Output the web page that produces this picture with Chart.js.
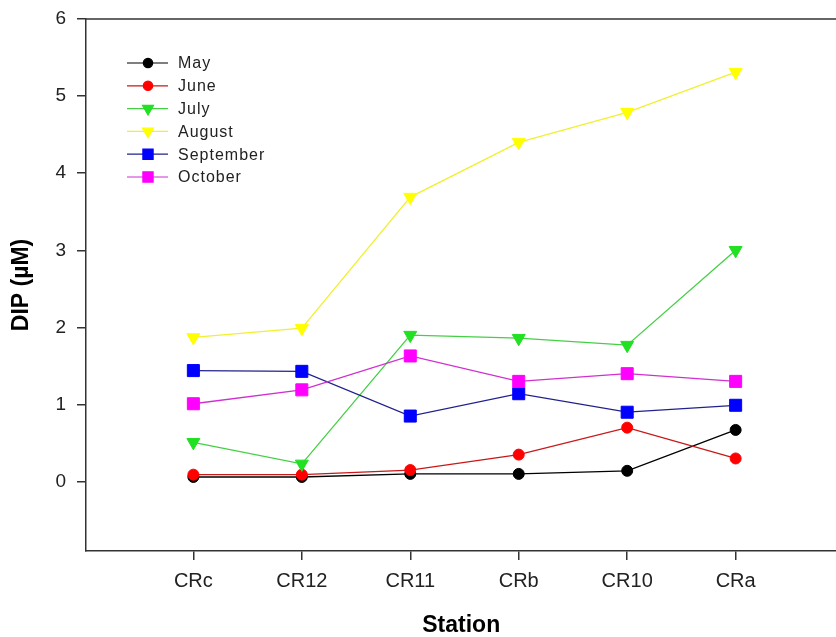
<!DOCTYPE html>
<html>
<head>
<meta charset="utf-8">
<script src="https://cdn.jsdelivr.net/npm/chart.js@4/dist/chart.umd.min.js"></script>
<style>
  html, body { margin: 0; padding: 0; background: #fff; overflow: hidden; }
  #wrap { width: 846px; height: 637px; }
</style>
</head>
<body>
<div id="wrap"><canvas id="dip-chart"></canvas></div>
<script>
const stations = ['CRc', 'CR12', 'CR11', 'CRb', 'CR10', 'CRa'];
const yTicks = [0, 1, 2, 3, 4, 5, 6];

const may = [0.06, 0.06, 0.10, 0.10, 0.14, 0.67];
const june = [0.09, 0.09, 0.15, 0.35, 0.70, 0.30];
const july = [0.51, 0.23, 1.90, 1.86, 1.77, 3.00];
const august = [1.87, 1.99, 3.69, 4.40, 4.79, 5.31];
const september = [1.44, 1.43, 0.85, 1.14, 0.90, 0.99];
const october = [1.01, 1.19, 1.63, 1.30, 1.40, 1.30];

const series = [
  { label: 'May', data: may, line: '#000000', fill: '#000000', style: 'circle', radius: 5.5, rotation: 0 },
  { label: 'June', data: june, line: '#c81818', fill: '#ff0000', style: 'circle', radius: 5.5, rotation: 0 },
  { label: 'July', data: july, line: '#44d044', fill: '#22e022', style: 'triangle', radius: 7.5, rotation: 180 },
  { label: 'August', data: august, line: '#f0f030', fill: '#ffff00', style: 'triangle', radius: 7.5, rotation: 180 },
  { label: 'September', data: september, line: '#22228c', fill: '#0000ff', style: 'rect', radius: 8.5, rotation: 0 },
  { label: 'October', data: october, line: '#d030d0', fill: '#ff00ff', style: 'rect', radius: 8.5, rotation: 0 },
];

const axisColor = '#333333';
const textColor = '#222222';

// legend drawn inside the plot area: line sample with marker, then name
const insideLegend = {
  id: 'insideLegend',
  afterDatasetsDraw(chart) {
    const ctx = chart.ctx;
    const left = chart.chartArea.left;
    ctx.save();
    series.forEach((s, i) => {
      const y = 63 + i * 22.8;
      ctx.strokeStyle = s.line;
      ctx.lineWidth = 1.2;
      ctx.beginPath();
      ctx.moveTo(left + 41, y);
      ctx.lineTo(left + 82, y);
      ctx.stroke();
      ctx.fillStyle = s.fill;
      ctx.strokeStyle = s.fill;
      Chart.helpers.drawPoint(ctx, {
        pointStyle: s.style,
        radius: s.radius * 0.85,
        rotation: s.rotation,
        borderWidth: 1,
      }, left + 62, y);
      ctx.fillStyle = textColor;
      ctx.font = '16px "Liberation Sans", Arial, sans-serif';
      ctx.letterSpacing = '1px';
      ctx.textAlign = 'left';
      ctx.textBaseline = 'middle';
      ctx.fillText(s.label, left + 92, y + 1);
    });
    ctx.restore();
  },
  afterDraw(chart) {
    // top frame line, and axis lines carried to the page edge
    const { ctx, chartArea } = chart;
    ctx.save();
    ctx.strokeStyle = axisColor;
    ctx.lineWidth = 1.5;
    ctx.beginPath();
    ctx.moveTo(chartArea.left, chartArea.top);
    ctx.lineTo(chart.width, chartArea.top);
    ctx.stroke();
    ctx.beginPath();
    ctx.moveTo(chartArea.right, chartArea.bottom);
    ctx.lineTo(chart.width, chartArea.bottom);
    ctx.stroke();
    ctx.restore();
  },
};

new Chart(document.getElementById('dip-chart'), {
  type: 'line',
  data: {
    datasets: series.map((s, i) => ({
      label: s.label,
      data: s.data.map((v, j) => ({ x: j, y: v })),
      borderColor: s.line,
      borderWidth: 1.3,
      backgroundColor: s.fill,
      pointBackgroundColor: s.fill,
      pointBorderColor: s.fill,
      pointBorderWidth: 1,
      pointStyle: s.style,
      pointRadius: s.radius,
      pointRotation: s.rotation,
      tension: 0,
      fill: false,
      order: series.length - i,
    })),
  },
  options: {
    responsive: true,
    maintainAspectRatio: false,
    animation: false,
    layout: { padding: { top: 0, left: 0, right: 0, bottom: 0 } },
    plugins: {
      legend: { display: false },
      tooltip: { enabled: false },
    },
    scales: {
      x: {
        type: 'linear',
        min: -0.99,
        max: 5.93,
        afterBuildTicks: (scale) => {
          scale.ticks = stations.map((_, i) => ({ value: i }));
        },
        afterFit: (scale) => { scale.height = 86; },
        ticks: {
          callback: (v) => stations[v],
          color: textColor,
          font: { family: '"Liberation Sans", Arial, sans-serif', size: 20 },
          padding: 9,
          autoSkip: false,
          maxRotation: 0,
        },
        grid: {
          drawOnChartArea: false,
          drawTicks: true,
          tickLength: 9,
          color: axisColor,
          lineWidth: 1.5,
        },
        border: { color: axisColor, width: 1.5 },
        title: {
          display: true,
          text: 'Station',
          color: '#000',
          font: { family: '"Liberation Sans", Arial, sans-serif', size: 23, weight: 'bold' },
          padding: { top: 0, bottom: -2 },
        },
      },
      y: {
        min: -0.9,
        max: 6,
        afterBuildTicks: (scale) => {
          scale.ticks = yTicks.map((v) => ({ value: v }));
        },
        afterFit: (scale) => {
          scale.width = 86;
          scale.paddingTop = 19;
        },
        ticks: {
          color: textColor,
          font: { family: '"Liberation Sans", Arial, sans-serif', size: 19, lineHeight: 1 },
          padding: 11,
        },
        grid: {
          drawOnChartArea: false,
          drawTicks: true,
          tickLength: 9,
          color: axisColor,
          lineWidth: 1.5,
        },
        border: { color: axisColor, width: 1.5 },
        title: {
          display: true,
          text: 'DIP (µM)',
          color: '#000',
          font: { family: '"Liberation Sans", Arial, sans-serif', size: 23, weight: 'bold' },
          padding: { top: 8, bottom: 0 },
        },
      },
    },
  },
  plugins: [insideLegend],
});
</script>
</body>
</html>
